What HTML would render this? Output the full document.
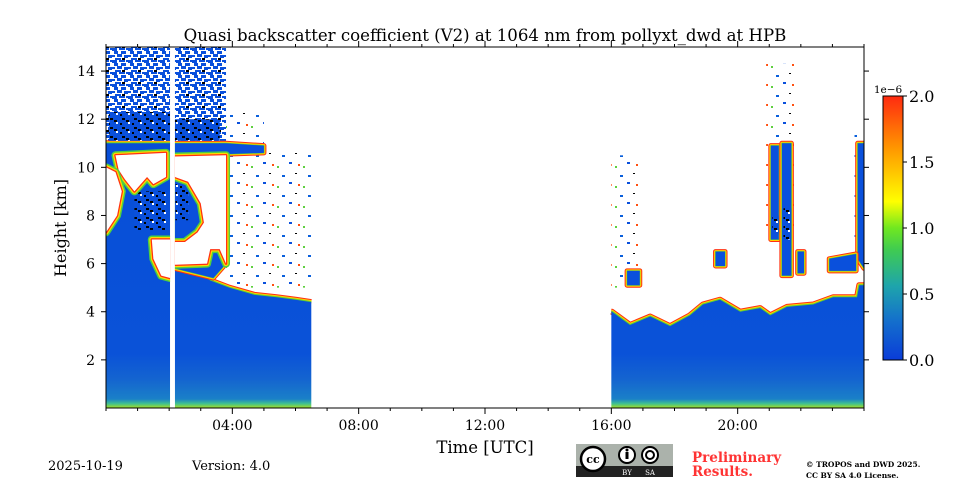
<!DOCTYPE html>
<html><head><meta charset="utf-8"><style>
html,body{margin:0;padding:0;background:#fff}
svg{display:block}
text{font-family:"DejaVu Serif","Liberation Serif",serif}
</style></head><body>
<svg id="chart" width="960" height="480" viewBox="0 0 960 480">
<defs>
<linearGradient id="cbar" x1="0" y1="1" x2="0" y2="0">
<stop offset="0" stop-color="#0a3cd8"/><stop offset="0.15" stop-color="#1470cc"/><stop offset="0.28" stop-color="#1ea4ac"/>
<stop offset="0.42" stop-color="#40cc50"/><stop offset="0.5" stop-color="#70e820"/><stop offset="0.6" stop-color="#ffff00"/>
<stop offset="0.8" stop-color="#ff9800"/><stop offset="1" stop-color="#ff2a10"/>
</linearGradient>
<linearGradient id="blfill" gradientUnits="userSpaceOnUse" x1="0" y1="408" x2="0" y2="47">
<stop offset="0" stop-color="#a8e020"/><stop offset="0.012" stop-color="#40c090"/><stop offset="0.025" stop-color="#1a80c8"/>
<stop offset="0.08" stop-color="#1464d0"/><stop offset="0.15" stop-color="#0a52d8"/><stop offset="1" stop-color="#054cd8"/>
</linearGradient>
<pattern id="noise" width="16" height="12" patternUnits="userSpaceOnUse">
<rect x="0" y="0" width="5" height="3" fill="#0a50dc"/><rect x="7" y="0" width="6" height="2" fill="#0a50dc"/>
<rect x="2" y="3" width="4" height="3" fill="#0a50dc"/><rect x="9" y="3" width="5" height="3" fill="#0a50dc"/>
<rect x="0" y="7" width="3" height="2" fill="#0a50dc"/><rect x="5" y="6" width="5" height="3" fill="#0a50dc"/>
<rect x="12" y="7" width="4" height="3" fill="#0a50dc"/><rect x="3" y="10" width="6" height="2" fill="#0a50dc"/>
<rect x="10" y="10" width="3" height="2" fill="#000"/><rect x="14" y="0" width="2" height="2" fill="#0a50dc"/>
</pattern>
<pattern id="dense" width="12" height="9" patternUnits="userSpaceOnUse">
<rect width="12" height="9" fill="#0a50dc"/><rect x="2" y="1" width="3" height="2" fill="#000"/><rect x="8" y="5" width="2" height="2" fill="#fff"/><rect x="6" y="3" width="3" height="2" fill="#000"/><rect x="0" y="6" width="2" height="2" fill="#000"/>
</pattern>
<pattern id="sparse" width="26" height="20" patternUnits="userSpaceOnUse">
<rect x="3" y="2" width="3" height="2" fill="#0a50dc"/><rect x="17" y="6" width="2" height="2" fill="#60d040"/>
<rect x="9" y="13" width="2" height="1" fill="#000"/><rect x="22" y="15" width="3" height="2" fill="#0a60dc"/>
<rect x="12" y="4" width="2" height="2" fill="#ff5010"/>
</pattern>
<clipPath id="plotclip"><rect x="106" y="47" width="758" height="361"/></clipPath>
</defs>
<rect width="960" height="480" fill="#fff"/>
<g id="plot" clip-path="url(#plotclip)"></g>
<rect x="106" y="47" width="758" height="361" fill="none" stroke="#000" stroke-width="1"/>
<g id="axes"></g>
<text x="485" y="41" text-anchor="middle" font-size="16.6">Quasi backscatter coefficient (V2) at 1064 nm from pollyxt_dwd at HPB</text>
<text x="485" y="453" text-anchor="middle" font-size="16.5">Time [UTC]</text>
<text transform="translate(66,228) rotate(-90)" text-anchor="middle" font-size="16">Height [km]</text>
<rect x="883" y="96" width="20" height="264" fill="url(#cbar)" stroke="#000" stroke-width="1"/>
<text x="888" y="93" text-anchor="middle" font-size="10.5">1e−6</text>
<g id="cbticks"></g>
<text x="48" y="470" font-size="13">2025-10-19</text>
<text x="192" y="470" font-size="13">Version: 4.0</text>
<g>
<rect x="576" y="444" width="97" height="33" fill="#abb2ab"/>
<rect x="576" y="466" width="97" height="11" fill="#222"/>
<circle cx="593" cy="459" r="12" fill="#fff" stroke="#000" stroke-width="2.5"/>
<text x="593" y="463" text-anchor="middle" font-size="11" font-weight="bold" font-family="Liberation Sans,sans-serif">cc</text>
<circle cx="627" cy="455" r="8" fill="#fff" stroke="#000" stroke-width="2"/>
<rect x="625.5" y="452" width="3" height="7" fill="#000"/><circle cx="627" cy="450" r="1.5" fill="#000"/>
<circle cx="650" cy="455" r="8" fill="#fff" stroke="#000" stroke-width="2"/>
<circle cx="650" cy="455" r="4" fill="none" stroke="#000" stroke-width="2"/>
<text x="627" y="475" text-anchor="middle" font-size="7" fill="#fff" font-family="Liberation Sans,sans-serif">BY</text>
<text x="650" y="475" text-anchor="middle" font-size="7" fill="#fff" font-family="Liberation Sans,sans-serif">SA</text>
</g>
<text x="692" y="462" font-size="13.5" font-weight="bold" fill="#ff3333">Preliminary</text>
<text x="692" y="476" font-size="13.5" font-weight="bold" fill="#ff3333">Results.</text>
<text x="806" y="467" font-size="7.5" font-weight="bold">© TROPOS and DWD 2025.</text>
<text x="806" y="478" font-size="7.5" font-weight="bold">CC BY SA 4.0 License.</text>
</svg>
<script>
// ---- data (time in hours UTC, height in km) ----
const bl1aTime=[0,2.03];
const bl1aTop=[11.0,11.0];
const bl1bTime=[2.18,2.5,2.9,3.3,3.9,4.7,5.4,6.0,6.5];
const bl1bTop=[5.85,5.9,5.65,5.3,5.0,4.7,4.6,4.5,4.4];
const bl2Time=[16.0,16.02,16.59,17.23,17.86,18.49,18.9,19.44,20.08,20.71,21.03,21.56,22.39,23.02,23.78,23.85,24];
const bl2Top=[4.0,4.0,3.45,3.8,3.4,3.85,4.3,4.5,4.0,4.15,3.85,4.2,4.3,4.6,4.6,5.1,5.1];
// aerosol / cloud masses (blue, coloured rim)
const massTimes=[
 [2.18,3.8,5.0,5.0,3.8,3.8,3.4,2.18],
 [21.05,21.3,21.3,21.05],
 [21.4,21.7,21.7,21.4],
 [23.8,24,24,23.8],
 [22.9,23.75,23.75,22.9],
 [19.3,19.6,19.6,19.3],
 [16.5,16.9,16.9,16.5],
 [21.9,22.1,22.1,21.9]
];
const massHeights=[
 [11.0,11.0,10.9,10.6,10.55,6.0,5.4,5.8],
 [10.9,10.9,7.0,7.0],
 [11.0,11.0,5.5,5.5],
 [11.0,11.0,5.8,6.2],
 [6.2,6.4,5.7,5.7],
 [6.5,6.5,5.9,5.9],
 [5.7,5.7,5.1,5.1],
 [6.5,6.5,5.6,5.6]
];
// saturated (white) cloud holes with red/yellow/green rim
const holeTimes=[
 [0.3,1.9,1.9,1.5,1.3,0.9,0.6,0.4],
 [0,0.3,0.5,0.35,0.15,0],
 [1.45,2.03,2.03,1.75,1.5],
 [2.18,3.8,3.8,3.6,3.3,3.2,2.18,2.18,2.5,2.9,3.1,3.0,2.6,2.18]
];
const holeHeights=[
 [10.5,10.6,9.6,9.3,9.6,9.0,9.5,9.9],
 [10.0,9.8,9.0,8.0,7.6,7.3],
 [7.0,7.0,5.4,5.5,6.2],
 [10.45,10.5,6.0,6.6,6.6,6.0,5.95,6.9,6.9,7.3,7.7,8.5,9.4,9.6]
];
// noise regions
const noiseT0=[0,2.18,3.8,3.8,16.0,20.9,23.7];
const noiseT1=[2.03,3.8,5.0,6.5,16.9,21.8,24];
const noiseH0=[11.0,11.0,10.9,5.0,5.0,7.0,6.0];
const noiseH1=[15.0,15.0,12.4,10.6,10.5,14.3,11.5];
const noiseKind=['noise','noise','sparse','sparse','sparse','sparse','sparse'];
const denseT0=[0.1,2.18,21.1,21.45,0.9,2.2];
const denseT1=[2.03,3.6,21.3,21.7,1.9,2.6];
const denseH0=[11.1,11.1,7.2,7.0,7.4,7.8];
const denseH1=[12.3,12.0,8.0,8.3,9.0,9.3];
const xTicks=[4,8,12,16,20];
const xTickLabels=['04:00','08:00','12:00','16:00','20:00'];
const yTicks=[2,4,6,8,10,12,14];
const cbTicks=[0,0.5,1.0,1.5,2.0];
const cbTickLabels=['0.0','0.5','1.0','1.5','2.0'];

// ---- scales ----
const X0=106,X1=864,Y0=408,Y1=47,TMAX=24,HMAX=15;
const xs=t=>X0+t/TMAX*(X1-X0);
const ys=h=>Y0-h/HMAX*(Y0-Y1);
const cbY=v=>360-v/2*264;
const NS='http://www.w3.org/2000/svg';
const plot=document.getElementById('plot');
const axes=document.getElementById('axes');
function mk(tag,attrs,parent){const e=document.createElementNS(NS,tag);for(const k in attrs)e.setAttribute(k,attrs[k]);parent.appendChild(e);return e;}
const edgeCols=['#ff3010','#ffd000','#60d030'],edgeW=[6,4,2];

// noise regions
for(let i=0;i<noiseT0.length;i++){
 const r=mk('rect',{x:xs(noiseT0[i]),y:ys(noiseH1[i]),width:xs(noiseT1[i])-xs(noiseT0[i]),height:ys(noiseH0[i])-ys(noiseH1[i]),fill:'url(#'+noiseKind[i]+')'},plot);
 
 
}
// boundary layers
function drawBL(times,tops,name){
 const top=times.map((t,j)=>xs(t)+','+ys(tops[j]));
 const g=mk('g',{},plot);
 
 
 for(let k=0;k<3;k++)mk('polyline',{points:top.join(' '),fill:'none',stroke:edgeCols[k],'stroke-width':edgeW[k],'stroke-linejoin':'round'},g);
 const poly=[xs(times[0])+','+ys(0)].concat(top).concat([xs(times[times.length-1])+','+ys(0)]);
 mk('polygon',{points:poly.join(' '),fill:'url(#blfill)'},g);
}
drawBL(bl1aTime,bl1aTop,'boundary-layer-night');
drawBL(bl1bTime,bl1bTop,'boundary-layer-morning');
drawBL(bl2Time,bl2Top,'boundary-layer-evening');
// masses
for(let i=0;i<massTimes.length;i++){
 const pts=massTimes[i].map((t,j)=>xs(t)+','+ys(massHeights[i][j])).join(' ');
 const g=mk('g',{},plot);
 
 
 for(let k=0;k<3;k++)mk('polygon',{points:pts,fill:'none',stroke:edgeCols[k],'stroke-width':edgeW[k]-1,'stroke-linejoin':'round'},g);
 mk('polygon',{points:pts,fill:'#0a50dc'},g);
}
// dense speckle
for(let i=0;i<denseT0.length;i++){
 const r=mk('rect',{x:xs(denseT0[i]),y:ys(denseH1[i]),width:xs(denseT1[i])-xs(denseT0[i]),height:ys(denseH0[i])-ys(denseH1[i]),fill:'url(#dense)'},plot);
 
 
}
// holes
const holeCols=['#50d040','#ffd800','#ff3010'],holeW=[8,5,2.5];
for(let i=0;i<holeTimes.length;i++){
 const pts=holeTimes[i].map((t,j)=>xs(t)+','+ys(holeHeights[i][j])).join(' ');
 const g=mk('g',{},plot);
 
 
 for(let k=0;k<3;k++)mk('polygon',{points:pts,fill:'none',stroke:holeCols[k],'stroke-width':holeW[k],'stroke-linejoin':'round'},g);
 mk('polygon',{points:pts,fill:'#fff'},g);
}
// gap between profiles
const gap=mk('rect',{x:xs(2.03),y:Y1,width:xs(2.18)-xs(2.03),height:Y0-Y1,fill:'#fff'},plot);



// axes ticks
for(let h=0;h<=24;h++){
 const x=xs(h),len=xTicks.includes(h)?6:3;
 const b=mk('line',{x1:x,x2:x,y1:Y0,y2:Y0+len,stroke:'#000'},axes);
 
 
 const t=mk('line',{x1:x,x2:x,y1:Y1,y2:Y1-len,stroke:'#000'},axes);
 
 
}
xTicks.forEach((v,i)=>{
 const t=mk('text',{x:xs(v),y:430,'text-anchor':'middle','font-size':14},axes);
 t.textContent=xTickLabels[i];
 
 
});
yTicks.forEach(v=>{
 const y=ys(v);
 const l=mk('line',{x1:X0-5,x2:X0,y1:y,y2:y,stroke:'#000'},axes);
 
 
 const r=mk('line',{x1:X1,x2:X1+5,y1:y,y2:y,stroke:'#000'},axes);
 
 
 const t=mk('text',{x:95,y:y+5,'text-anchor':'end','font-size':14},axes);
 t.textContent=v;
 
 
});
const cbg=document.getElementById('cbticks');
cbTicks.forEach((v,i)=>{
 const y=cbY(v);
 const l=mk('line',{x1:903,x2:907,y1:y,y2:y,stroke:'#000'},cbg);
 
 
 const t=mk('text',{x:909,y:y+6,'font-size':16},cbg);
 t.textContent=cbTickLabels[i];
 
 
});
</script>
</body></html>
